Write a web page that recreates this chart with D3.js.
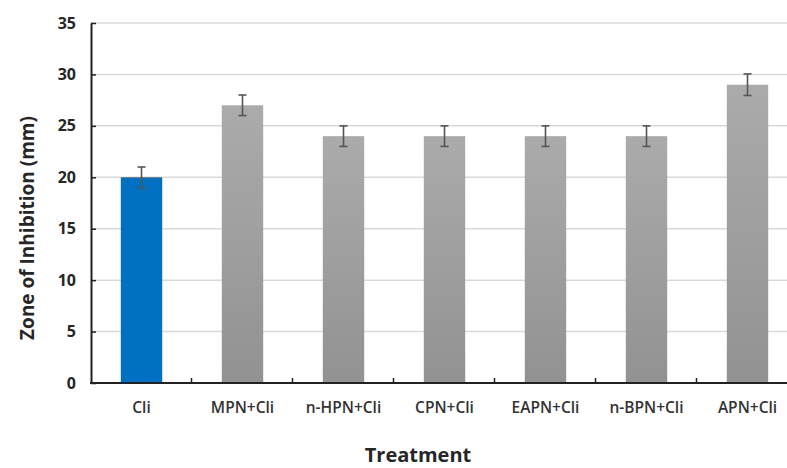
<!DOCTYPE html>
<html>
<head>
<meta charset="utf-8">
<script src="https://cdn.jsdelivr.net/npm/d3@7"></script>
<style>
  html, body { margin: 0; padding: 0; background: #fff; }
  svg { display: block; font-family: "Open Sans", "Noto Sans", sans-serif; }
</style>
</head>
<body>
<svg id="chart" width="787" height="468"></svg>
<script>
// Zone of inhibition per treatment, with standard error
const categories = ["Cli", "MPN+Cli", "n-HPN+Cli", "CPN+Cli", "EAPN+Cli", "n-BPN+Cli", "APN+Cli"];
const values = [20, 27, 24, 24, 24, 24, 29];
const errors = [1, 1, 1, 1, 1, 1, 1.05];
const yTicks = [0, 5, 10, 15, 20, 25, 30, 35];

const svg = d3.select("#chart");
const margin = { left: 91, top: 23, right: -11, bottom: 85 };
const W = 787, H = 468;

const x = d3.scaleBand()
  .domain(categories)
  .range([margin.left, W - margin.right])
  .paddingInner(0.59)
  .paddingOuter(0.295);

const y = d3.scaleLinear()
  .domain([0, 35])
  .range([H - margin.bottom, margin.top]);

// gradient for the extract bars
const defs = svg.append("defs");
const grad = defs.append("linearGradient")
  .attr("id", "grayFill").attr("x1", 0).attr("y1", 0).attr("x2", 0).attr("y2", 1);
grad.append("stop").attr("offset", "0%").attr("stop-color", "#ababab");
grad.append("stop").attr("offset", "100%").attr("stop-color", "#929292");

// horizontal gridlines
svg.append("g")
  .selectAll("line")
  .data(yTicks.filter(d => d > 0))
  .join("line")
  .attr("x1", margin.left).attr("x2", W)
  .attr("y1", d => y(d)).attr("y2", d => y(d))
  .attr("stroke", "#d9d9d9").attr("stroke-width", 1.5);

// bars
svg.append("g")
  .selectAll("rect")
  .data(categories)
  .join("rect")
  .attr("x", d => x(d))
  .attr("width", x.bandwidth())
  .attr("y", (d, i) => y(values[i]))
  .attr("height", (d, i) => y(0) - y(values[i]))
  .attr("fill", (d, i) => i === 0 ? "#0070c0" : "url(#grayFill)");

// error bars
const eb = svg.append("g").attr("stroke", "#555").attr("stroke-width", 1.6).attr("fill", "none");
categories.forEach((c, i) => {
  const cx = x(c) + x.bandwidth() / 2;
  const top = y(values[i] + errors[i]), bot = y(values[i] - errors[i]);
  eb.append("line").attr("x1", cx).attr("x2", cx).attr("y1", top).attr("y2", bot);
  eb.append("line").attr("x1", cx - 4).attr("x2", cx + 4).attr("y1", top).attr("y2", top);
  eb.append("line").attr("x1", cx - 4).attr("x2", cx + 4).attr("y1", bot).attr("y2", bot);
});

// y axis
const yAxis = svg.append("g")
  .attr("transform", `translate(${margin.left},0)`)
  .call(d3.axisLeft(y).tickValues(yTicks).tickSizeInner(-5).tickSizeOuter(0).tickPadding(15));
yAxis.select(".domain").attr("stroke", "#222").attr("stroke-width", 2);
yAxis.selectAll(".tick line").attr("stroke", "#222").attr("stroke-width", 1.5);
yAxis.selectAll(".tick text")
  .attr("font-size", 16).attr("font-weight", 700).attr("fill", "#262626")
  .attr("font-family", "'Open Sans', sans-serif");

// x axis with category boundary ticks pointing inward
const xAxisG = svg.append("g").attr("transform", `translate(0,${y(0)})`);
xAxisG.append("line")
  .attr("x1", margin.left - 1).attr("x2", W)
  .attr("stroke", "#222").attr("stroke-width", 2);
const step = x.step();
xAxisG.selectAll("line.sep")
  .data(categories.slice(1))
  .join("line")
  .attr("class", "sep")
  .attr("x1", d => x(d) - x.paddingInner() * step / 2 - 0.5)
  .attr("x2", d => x(d) - x.paddingInner() * step / 2 - 0.5)
  .attr("y1", 0).attr("y2", -5)
  .attr("stroke", "#222").attr("stroke-width", 1.5);
xAxisG.selectAll("text")
  .data(categories)
  .join("text")
  .attr("x", d => x(d) + x.bandwidth() / 2)
  .attr("y", 30)
  .attr("text-anchor", "middle")
  .attr("font-size", 15.5).attr("font-weight", 600).attr("fill", "#333")
  .text(d => d);

// axis titles
svg.append("text")
  .attr("transform", `translate(34,${(y(0) + y(35)) / 2 + 25}) rotate(-90)`)
  .attr("text-anchor", "middle")
  .attr("font-size", 19).attr("font-weight", 700).attr("fill", "#262626")
  .text("Zone of Inhibition (mm)");

svg.append("text")
  .attr("x", 418).attr("y", 462)
  .attr("text-anchor", "middle")
  .attr("font-size", 20).attr("font-weight", 700).attr("fill", "#262626")
  .text("Treatment");
</script>
</body>
</html>
